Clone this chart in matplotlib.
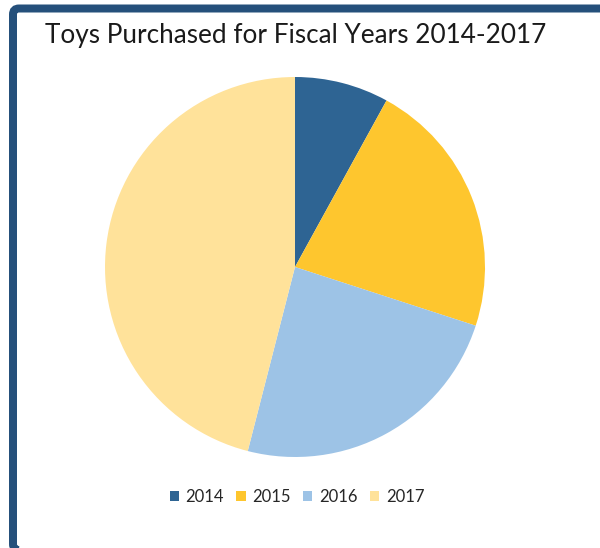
import matplotlib
matplotlib.use("Agg")
import matplotlib.pyplot as plt
from matplotlib.patches import FancyBboxPatch, Patch
from matplotlib.transforms import IdentityTransform

# Data
years = ["2014", "2015", "2016", "2017"]
toys = [8, 22, 24, 46]
colors = ["#2E6493", "#FEC62E", "#9DC3E6", "#FFE29A"]
title = "Toys Purchased for Fiscal Years 2014-2017"

W, H, DPI = 600, 548, 100
fig = plt.figure(figsize=(W / DPI, H / DPI), dpi=DPI)
fig.patch.set_facecolor("white")

# Dark blue chart border (pixel coordinates, origin bottom-left)
border = FancyBboxPatch((13, -2), 600, H - 8.5 + 2,
                        boxstyle="round,pad=0,rounding_size=6",
                        transform=IdentityTransform(), fill=False,
                        edgecolor="#25507B", linewidth=8 * 72 / DPI,
                        zorder=5)
fig.patches.append(border)

# Pie axes: centre (295, 267) px from top, radius 190 px
r = 190
cx, cy = 295, 267
ax = fig.add_axes([(cx - r) / W, (H - cy - r) / H, 2 * r / W, 2 * r / H])
ax.pie(toys, colors=colors, startangle=90, counterclock=False,
       radius=1, wedgeprops=dict(linewidth=0))
ax.set_xlim(-1, 1)
ax.set_ylim(-1, 1)
ax.set_aspect("equal")
ax.axis("off")

font = "Lato"
fig.text(45 / W, 1 - 43 / H, title, fontsize=18.8, family=font,
         color="#1A1A1A", ha="left", va="baseline")

handles = [Patch(facecolor=c, edgecolor="none") for c in colors]
fig.legend(handles, years, loc="center", bbox_to_anchor=(297 / W, 1 - 497 / H),
           ncol=4, frameon=False, prop=dict(family=font, size=12),
           handlelength=0.55, handleheight=0.55, handletextpad=0.4,
           columnspacing=0.75, labelcolor="#262626")

fig.savefig("out.png", dpi=DPI)
